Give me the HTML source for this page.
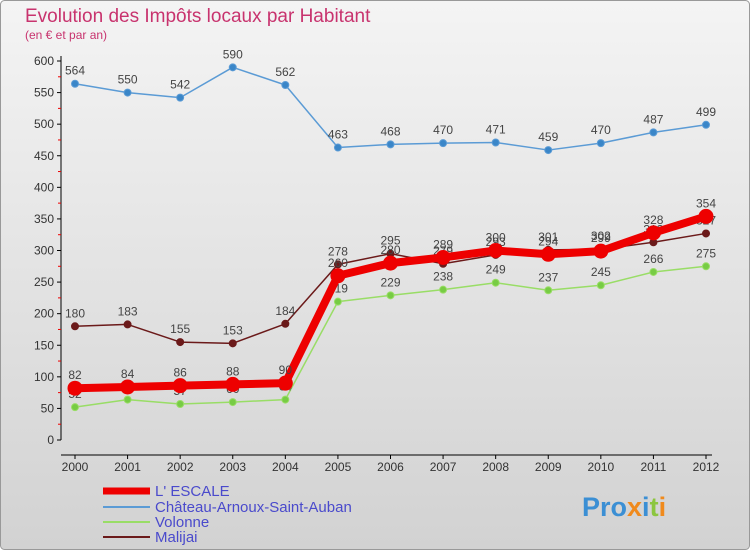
<!DOCTYPE html>
<html><head><meta charset="utf-8"><style>
body{margin:0;}
#c{width:750px;height:550px;position:relative;font-family:"Liberation Sans",sans-serif;}
</style></head><body>
<div id="c">
<svg id="s" width="750" height="550" xmlns="http://www.w3.org/2000/svg">
<defs><linearGradient id="bg" x1="0" y1="0" x2="0" y2="1"><stop offset="0" stop-color="#f4f4f4"/><stop offset="1" stop-color="#d2d2d2"/></linearGradient></defs>
<rect x="0.5" y="0.5" width="749" height="549" rx="4" fill="url(#bg)" stroke="#999"/>
<text x="25" y="22" font-size="19" fill="#c8336e">Evolution des Impôts locaux par Habitant</text>
<text x="25" y="39" font-size="12" fill="#c8336e">(en € et par an)</text>
<g id="axes"></g><g id="series"></g>
<g>
<line x1="103" y1="491" x2="150" y2="491" stroke="#ee0000" stroke-width="7"/>
<text x="155" y="496" font-size="15" fill="#4a4acc">L' ESCALE</text>
<line x1="103" y1="507" x2="150" y2="507" stroke="#5b9bd5" stroke-width="2"/>
<text x="155" y="512" font-size="15" fill="#4a4acc">Château-Arnoux-Saint-Auban</text>
<line x1="103" y1="522" x2="150" y2="522" stroke="#99dd66" stroke-width="2"/>
<text x="155" y="527" font-size="15" fill="#4a4acc">Volonne</text>
<line x1="103" y1="537" x2="150" y2="537" stroke="#6b1a1a" stroke-width="2"/>
<text x="155" y="542" font-size="15" fill="#4a4acc">Malijai</text>
</g>
<text x="582" y="516" font-size="27" font-weight="bold"><tspan fill="#3b8fd4">Pro</tspan><tspan fill="#f08a1c">x</tspan><tspan fill="#3b8fd4">i</tspan><tspan fill="#8cc63f">t</tspan><tspan fill="#f08a1c">i</tspan></text>
</svg>
</div>
<script>
const years=["2000","2001","2002","2003","2004","2005","2006","2007","2008","2009","2010","2011","2012"];
const yTicks=[0,50,100,150,200,250,300,350,400,450,500,550,600];
const chateau=[564,550,542,590,562,463,468,470,471,459,470,487,499];
const volonne=[52,64,57,60,64,219,229,238,249,237,245,266,275];
const malijai=[180,183,155,153,184,278,295,279,293,301,302,313,327];
const escale=[82,84,86,88,90,260,280,289,300,294,299,328,354];
const NS="http://www.w3.org/2000/svg";
function X(i){return 75+i*(706-75)/12;}
function Y(v){return 440-v*(440-61)/600;}
function mk(p,t,a){const e=document.createElementNS(NS,t);for(const k in a)e.setAttribute(k,a[k]);p.appendChild(e);return e;}
const ax=document.getElementById('axes');
const ya=mk(ax,'line',{x1:61,y1:56,x2:61,y2:440,stroke:'#000'});


const xa=mk(ax,'line',{x1:61,y1:455,x2:712,y2:455,stroke:'#000'});


yTicks.forEach(v=>{
  mk(ax,'line',{x1:57,y1:Y(v),x2:61,y2:Y(v),stroke:'#000'});
  if(v<600)mk(ax,'line',{x1:58,y1:Y(v+25),x2:61,y2:Y(v+25),stroke:'#e00'});
  const t=mk(ax,'text',{x:54,y:Y(v)+4,'font-size':12,'text-anchor':'end',fill:'#333'});
  t.textContent=v;
  
  
});
years.forEach((y,i)=>{
  mk(ax,'line',{x1:X(i),y1:455,x2:X(i),y2:459,stroke:'#000'});
  const t=mk(ax,'text',{x:X(i),y:471,'font-size':12,'text-anchor':'middle',fill:'#333'});
  t.textContent=y;
  
  
});
const sg=document.getElementById('series');
function draw(d,name,col,w,r,dot){
  const g=mk(sg,'g',{});
  
  
  const pl=mk(g,'polyline',{points:d.map((v,i)=>X(i)+','+Y(v)).join(' '),fill:'none',stroke:col,'stroke-width':w,'stroke-linejoin':'round'});
  
  
  d.forEach((v,i)=>{
    const c=mk(g,'circle',{cx:X(i),cy:Y(v),r:r,fill:dot,stroke:col,'stroke-width':1});
    
    
    const t=mk(g,'text',{x:X(i),y:Y(v)-9,'font-size':12,'text-anchor':'middle',fill:'#444'});
    t.textContent=v;
    
    
  });
}
draw(chateau,'chateau','#5b9bd5',1.5,3.5,'#3a86c8');
draw(volonne,'volonne','#99dd66',1.5,3.5,'#77cc44');
draw(malijai,'malijai','#6b1a1a',1.5,3.5,'#6b1a1a');
draw(escale,'escale','#ee0000',8,7,'#ee0000');
</script>
</body></html>
